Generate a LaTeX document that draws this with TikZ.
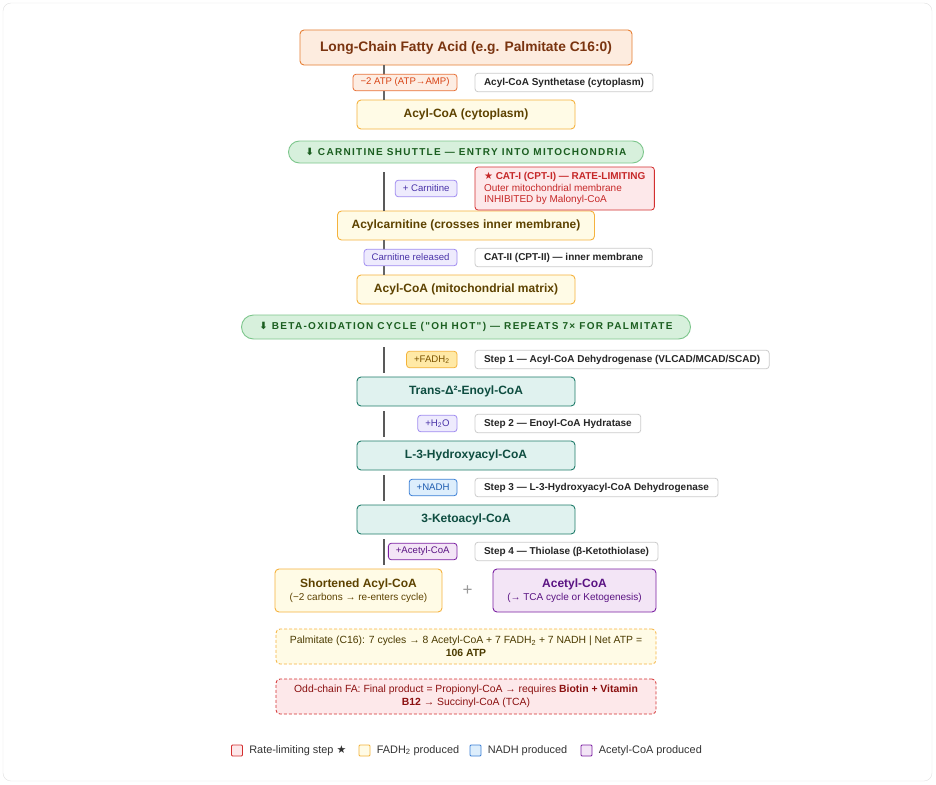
\documentclass[tikz,border=0pt]{standalone}
\usepackage{fontspec}
\setmainfont{Liberation Sans}
\newfontfamily\symfont{DejaVu Sans}
\newfontfamily\bannerfont[LetterSpace=13]{Liberation Sans}
\usetikzlibrary{positioning, calc}
\usepackage{xcolor}

\definecolor{titlefill}{HTML}{FDECDF}
\definecolor{titleline}{HTML}{E67E33}
\definecolor{titletext}{HTML}{7A3410}
\definecolor{atpfill}{HTML}{FDEDE3}
\definecolor{atpline}{HTML}{E8733A}
\definecolor{atptext}{HTML}{D84315}
\definecolor{amberfill}{HTML}{FFFBE6}
\definecolor{amberline}{HTML}{F5B23E}
\definecolor{ambertext}{HTML}{5D4200}
\definecolor{greenfill}{HTML}{D7F0DC}
\definecolor{greenline}{HTML}{7DC68C}
\definecolor{greentext}{HTML}{1B5E20}
\definecolor{lavfill}{HTML}{EEEBFD}
\definecolor{lavline}{HTML}{A08CF0}
\definecolor{lavtext}{HTML}{4A33A8}
\definecolor{ratefill}{HTML}{FDE8EA}
\definecolor{rateline}{HTML}{D32F2F}
\definecolor{ratetext}{HTML}{C62828}
\definecolor{tealfill}{HTML}{E0F2EF}
\definecolor{tealline}{HTML}{1E7B69}
\definecolor{tealtext}{HTML}{0E4D40}
\definecolor{fadhfill}{HTML}{FFE9A6}
\definecolor{fadhline}{HTML}{F3B33A}
\definecolor{fadhtext}{HTML}{7A5200}
\definecolor{nadhfill}{HTML}{DDEEFC}
\definecolor{nadhline}{HTML}{3D80D6}
\definecolor{nadhtext}{HTML}{1C5BB0}
\definecolor{acfill}{HTML}{F3E5F6}
\definecolor{acline}{HTML}{7B1FA2}
\definecolor{actext}{HTML}{5A1383}
\definecolor{oddtext}{HTML}{8B1010}
\definecolor{palmtext}{HTML}{4A3A00}

\begin{document}
\begin{tikzpicture}[x=1pt, y=1pt, outer sep=0pt,
    stage/.style={draw=amberline, fill=amberfill, rounded corners=4pt, line width=0.9pt,
                  minimum width=218pt, minimum height=29pt, align=center,
                  font=\fontsize{12}{14}\selectfont\bfseries, text=ambertext},
    oxstep/.style={stage, draw=tealline, fill=tealfill, text=tealtext},
    banner/.style={draw=greenline, fill=greenfill, rounded corners=11pt, line width=0.9pt,
                   minimum height=22pt, font=\bannerfont\fontsize{10}{11}\selectfont\bfseries,
                   text=greentext},
    enzyme/.style={draw=black!20, fill=white, rounded corners=3pt, line width=0.8pt,
                   minimum height=18.5pt, inner xsep=9pt, inner ysep=0pt,
                   font=\fontsize{10}{12}\selectfont\bfseries, text=black!85},
    tag/.style={rounded corners=3pt, minimum height=16.5pt, inner xsep=7.5pt, inner ysep=0pt,
                line width=0.8pt, font=\fontsize{9.6}{11}\selectfont},
    link/.style={line width=1.5pt, draw=black!60},
    rail/.style={line width=2pt, draw=black!65},
    note/.style={dashed, dash pattern=on 3pt off 2pt, rounded corners=4pt, line width=0.8pt,
                 minimum width=380pt, minimum height=35pt, align=center,
                 font=\fontsize{10.4}{12.5}\selectfont},
    legbox/.style={draw, minimum size=11pt, inner sep=0pt, line width=0.8pt, rounded corners=1pt},
    legtext/.style={right=3.5pt, font=\fontsize{10.9}{13}\selectfont, text=black!80}]

  \useasboundingbox (0,0) rectangle (936,-784);
  \draw[draw=black!12, fill=white, rounded corners=8pt] (3,-3) rectangle (932,-781);

  % main chain
  \node[stage, draw=titleline, fill=titlefill, text=titletext, minimum width=332pt,
        minimum height=35pt, font=\fontsize{13.8}{16}\selectfont\bfseries]
        (fa) at (466,-47.5) {Long-Chain Fatty Acid (e.g. Palmitate C16:0)};
  \node[stage, below=35pt of fa] (acylc) {Acyl-CoA (cytoplasm)};
  \node[banner, minimum width=355pt, below=12pt of acylc] (shuttle)
        {{\symfont ⬇} CARNITINE SHUTTLE — ENTRY INTO MITOCHONDRIA};
  \node[stage, minimum width=257pt, below=48pt of shuttle] (acylcarn)
        {Acylcarnitine (crosses inner membrane)};
  \node[stage, below=35pt of acylcarn] (acylm) {Acyl-CoA (mitochondrial matrix)};
  \node[banner, minimum width=449pt, minimum height=24pt, rounded corners=12pt,
        below=11pt of acylm] (betaox)
        {{\symfont ⬇} BETA-OXIDATION CYCLE ("OH HOT") — REPEATS 7× FOR PALMITATE};
  \node[oxstep, below=38pt of betaox] (enoyl) {Trans-Δ²-Enoyl-CoA};
  \node[oxstep, below=35pt of enoyl] (hydroxy) {L-3-Hydroxyacyl-CoA};
  \node[oxstep, below=35pt of hydroxy] (keto) {3-Ketoacyl-CoA};

  % products
  \node[stage, anchor=north west, minimum width=167pt, minimum height=43pt]
        (short) at ($(keto.south west)+(-82,-35)$)
        {Shortened Acyl-CoA\\[-1pt]{\fontsize{10}{11}\selectfont\mdseries (−2 carbons → re-enters cycle)}};
  \node[stage, draw=acline, fill=acfill, text=actext, anchor=north west,
        minimum width=163pt, minimum height=43pt]
        (acetyl) at ($(keto.south west)+(136,-35)$)
        {Acetyl-CoA\\[-1pt]{\fontsize{10}{11}\selectfont\mdseries (→ TCA cycle or Ketogenesis)}};
  \node[text=black!40, font=\fontsize{17}{17}\selectfont] (plus) at ($(short.east)!0.5!(acetyl.west)$) {+};

  % summary notes
  \node[note, draw=amberline, fill=amberfill, text=palmtext, anchor=north]
        (palm) at ($(keto.south)+(0,-95)$)
        {Palmitate (C16): 7 cycles → 8 Acetyl-CoA + 7 FADH\textsubscript{2} + 7 NADH | Net ATP =\\\textbf{106 ATP}};
  \node[note, draw=rateline, fill=ratefill, text=oddtext, below=15pt of palm] (odd)
        {Odd-chain FA: Final product = Propionyl-CoA → requires \textbf{Biotin + Vitamin}\\\textbf{B12} → Succinyl-CoA (TCA)};

  % connectors
  \coordinate (trunk) at (384,0);
  \draw[link] (fa.south -| trunk) -- (acylc.north -| trunk);
  \draw[rail, shorten <=9pt] (shuttle.south -| trunk) -- (acylcarn.north -| trunk);
  \draw[link] (acylcarn.south -| trunk) -- (acylm.north -| trunk);
  \draw[rail, shorten <=8pt, shorten >=4pt] (betaox.south -| trunk) -- (enoyl.north -| trunk);
  \draw[rail, shorten <=5pt, shorten >=4pt] (enoyl.south -| trunk) -- (hydroxy.north -| trunk);
  \draw[rail, shorten <=5pt, shorten >=4pt] (hydroxy.south -| trunk) -- (keto.north -| trunk);
  \draw[rail, shorten <=5pt, shorten >=4pt] (keto.south -| trunk) -- (short.north -| trunk);

  % enzymes and cofactors
  \node[enzyme, anchor=west] (acs) at ($(fa.south)!0.5!(acylc.north)+(9,0)$)
        {Acyl-CoA Synthetase (cytoplasm)};
  \node[tag, draw=atpline, fill=atpfill, text=atptext, left=18pt of acs] (atp) {−2 ATP (ATP→AMP)};

  \node[enzyme, draw=rateline, fill=ratefill, text=ratetext, anchor=west, align=left,
        minimum height=43pt, inner ysep=3pt, font=\fontsize{10}{11.5}\selectfont]
        (cat1) at ($(shuttle.south)!0.5!(acylcarn.north)+(9,-1.5)$)
        {\textbf{{\symfont ★} CAT-I (CPT-I) — RATE-LIMITING}\\Outer mitochondrial membrane\\INHIBITED by Malonyl-CoA};
  \node[tag, draw=lavline, fill=lavfill, text=lavtext, left=18pt of cat1] (carn) {+ Carnitine};

  \node[enzyme, anchor=west] (cat2) at ($(acylcarn.south)!0.5!(acylm.north)+(9,0)$)
        {CAT-II (CPT-II) — inner membrane};
  \node[tag, draw=lavline, fill=lavfill, text=lavtext, left=18pt of cat2] (carnout) {Carnitine released};

  \node[enzyme, anchor=west] (step1) at ($(betaox.south)!0.5!(enoyl.north)+(9,-1.5)$)
        {Step 1 — Acyl-CoA Dehydrogenase (VLCAD/MCAD/SCAD)};
  \node[tag, draw=fadhline, fill=fadhfill, text=fadhtext, left=18pt of step1] (fadh) {+FADH\textsubscript{2}};

  \node[enzyme, anchor=west] (step2) at ($(enoyl.south)!0.5!(hydroxy.north)+(9,0)$)
        {Step 2 — Enoyl-CoA Hydratase};
  \node[tag, draw=lavline, fill=lavfill, text=lavtext, left=18pt of step2] (water) {+H\textsubscript{2}O};

  \node[enzyme, anchor=west] (step3) at ($(hydroxy.south)!0.5!(keto.north)+(9,0)$)
        {Step 3 — L-3-Hydroxyacyl-CoA Dehydrogenase};
  \node[tag, draw=nadhline, fill=nadhfill, text=nadhtext, left=18pt of step3] (nadh) {+NADH};

  \node[enzyme, anchor=west] (step4) at ($(keto.south)!0.5!(keto.south |- short.north)+(9,0)$)
        {Step 4 — Thiolase (β-Ketothiolase)};
  \node[tag, draw=acline, fill=acfill, text=actext, left=18pt of step4] (actag) {+Acetyl-CoA};

  % legend
  \node[legbox, draw=rateline, fill=ratefill] (k1) at (237,-750.5) {};
  \node[legtext] (k1t) at (k1.east) {Rate-limiting step {\symfont ★}};
  \node[legbox, draw=fadhline, fill=amberfill] (k2) at (364.5,-750.5) {};
  \node[legtext] (k2t) at (k2.east) {FADH\textsubscript{2} produced};
  \node[legbox, draw=nadhline, fill=nadhfill] (k3) at (475.5,-750.5) {};
  \node[legtext] (k3t) at (k3.east) {NADH produced};
  \node[legbox, draw=acline, fill=acfill] (k4) at (586.5,-750.5) {};
  \node[legtext] (k4t) at (k4.east) {Acetyl-CoA produced};
\end{tikzpicture}
\end{document}
